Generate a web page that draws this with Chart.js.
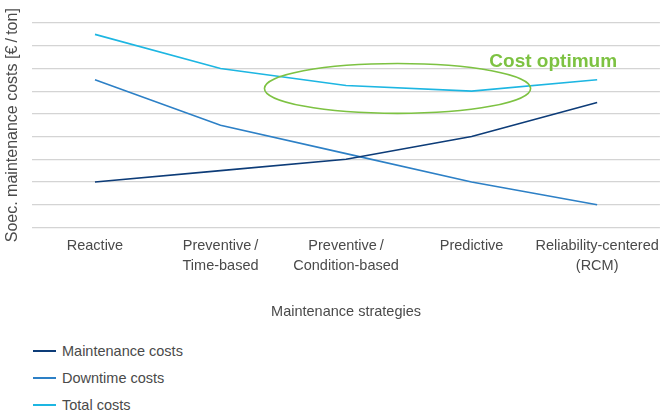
<!DOCTYPE html>
<html>
<head>
<meta charset="utf-8">
<script src="https://cdn.jsdelivr.net/npm/chart.js@4/dist/chart.umd.min.js"></script>
<style>
  body { margin: 0; background: #fff; font-family: "Liberation Sans", Arial, sans-serif; }
  #wrap { position: relative; width: 667px; height: 321px; }
  #legend { margin: 16px 0 0 33px; }
  .item { display: flex; align-items: center; height: 27px; font-size: 14.5px; color: #4a4a4a; }
  .swatch { width: 23px; height: 2px; margin-right: 6px; }
</style>
</head>
<body>
<div id="wrap"><canvas id="chart" width="667" height="321"></canvas></div>
<div id="legend"></div>
<script>
const strategies = [
    ["Reactive"],
    ["Preventive\u2009/", "Time-based"],
    ["Preventive\u2009/", "Condition-based"],
    ["Predictive"],
    ["Reliability-centered", "(RCM)"]
];
const maintenanceCosts = [2, 2.5, 3, 4, 5.5];
const downtimeCosts = [6.5, 4.5, 3.25, 2, 1];
const totalCosts = [8.5, 7, 6.25, 6, 6.5];
const seriesNames = ["Maintenance costs", "Downtime costs", "Total costs"];
const seriesColors = ["#0d3c78", "#2d80c6", "#1db6e2"];

// cost optimum marker, in data units (category index / value)
const optimum = { x: 2.41, y: 6.12, rx: 1.06, ry: 1.1, labelX: 3.65, labelY: 7.3, text: "Cost optimum" };

const optimumPlugin = {
    id: "optimum",
    afterDatasetsDraw(chart) {
        const {ctx, scales: {x, y}} = chart;
        const step = x.getPixelForValue(1) - x.getPixelForValue(0);
        const cx = x.getPixelForValue(optimum.x);
        const cy = y.getPixelForValue(optimum.y);
        const rx = optimum.rx * step;
        const ry = Math.abs(y.getPixelForValue(0) - y.getPixelForValue(optimum.ry));
        ctx.save();
        ctx.strokeStyle = "#7dc242";
        ctx.lineWidth = 1.6;
        ctx.beginPath();
        ctx.ellipse(cx, cy, rx, ry, 0, 0, Math.PI * 2);
        ctx.stroke();
        ctx.fillStyle = "#7dc242";
        ctx.font = "bold 19px 'Liberation Sans', Arial, sans-serif";
        ctx.textAlign = "center";
        ctx.textBaseline = "middle";
        ctx.fillText(optimum.text, x.getPixelForValue(optimum.labelX), y.getPixelForValue(optimum.labelY));
        ctx.restore();
    }
};

const seriesData = [maintenanceCosts, downtimeCosts, totalCosts];

new Chart(document.getElementById("chart"), {
    type: "line",
    data: {
        labels: strategies,
        datasets: seriesData.map((d, i) => ({
            label: seriesNames[i],
            data: d,
            borderColor: seriesColors[i],
            borderWidth: 1.6,
            pointRadius: 0,
            tension: 0
        }))
    },
    options: {
        responsive: false,
        maintainAspectRatio: false,
        animation: false,
        layout: { padding: { top: 23, right: 2, left: 0, bottom: 0 } },
        plugins: { legend: { display: false }, tooltip: { enabled: false } },
        scales: {
            x: {
                offset: true,
                grid: { display: false, drawTicks: false },
                border: { display: false },
                ticks: {
                    color: "#4a4a4a",
                    font: { size: 14.5, family: "'Liberation Sans', Arial, sans-serif", lineHeight: 1.42 },
                    padding: 8,
                    maxRotation: 0,
                    autoSkip: false
                },
                title: {
                    display: true,
                    text: "Maintenance strategies",
                    color: "#4a4a4a",
                    font: { size: 14.5, family: "'Liberation Sans', Arial, sans-serif" },
                    padding: { top: 19, bottom: 0 }
                }
            },
            y: {
                min: 0,
                max: 9,
                ticks: { display: false, stepSize: 1 },
                grid: { color: "#d4d4d4", lineWidth: 1.2, drawTicks: false },
                border: { display: false },
                title: {
                    display: true,
                    text: "Soec. maintenance costs [\u20ac\u2009/\u2009ton]",
                    color: "#4a4a4a",
                    font: { size: 16, family: "'Liberation Sans', Arial, sans-serif" },
                    padding: { top: 3, bottom: 10 }
                }
            }
        }
    },
    plugins: [optimumPlugin]
});

const legend = document.getElementById("legend");
seriesNames.forEach((name, i) => {
    const item = document.createElement("div");
    item.className = "item";
    item.innerHTML = `<span class="swatch" style="background:${seriesColors[i]}"></span>${name}`;
    legend.appendChild(item);
});
</script>
</body>
</html>
